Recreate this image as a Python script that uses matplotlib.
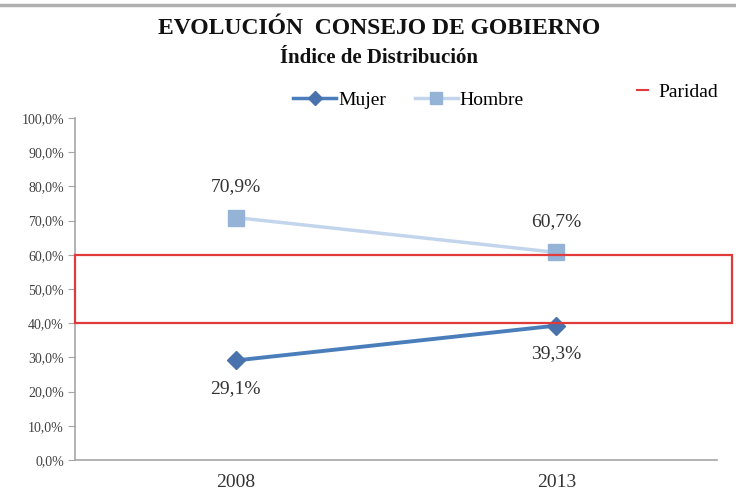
import matplotlib
matplotlib.use("Agg")
import matplotlib.pyplot as plt
import matplotlib.patches as mpatches
from matplotlib.lines import Line2D

plt.rcParams["font.family"] = ["Liberation Serif", "DejaVu Serif"]

# ── Data ─────────────────────────────────────────────────────────────────────
years   = ["2008", "2013"]
mujer   = [29.1, 39.3]
hombre  = [70.9, 60.7]
paridad = [40.0, 60.0]
yticks  = [0, 10, 20, 30, 40, 50, 60, 70, 80, 90, 100]

C_MUJER   = "#4a7ebb"
C_MUJER_M = "#4a72ad"
C_HOMBRE  = "#c3d5ec"
C_HOMBRE_M = "#95b3d7"
C_RED     = "#e03a3a"
C_AXIS    = "#a6a6a6"

fig = plt.figure(figsize=(7.36, 5.0), dpi=100)
ax = fig.add_axes([0.102, 0.08, 0.872, 0.684])

x = [0.5, 1.5]
ax.plot(x, hombre, color=C_HOMBRE, linewidth=2.5, zorder=3)
ax.plot(x, hombre, linestyle="none", marker="s", markersize=11,
        color=C_HOMBRE_M, zorder=4)
ax.plot(x, mujer, color=C_MUJER, linewidth=2.8, zorder=3)
ax.plot(x, mujer, linestyle="none", marker="D", markersize=9,
        color=C_MUJER_M, zorder=4)

def fmt(v):
    return f"{v:.1f}%".replace(".", ",")

for xi, v in zip(x, hombre):
    ax.annotate(fmt(v), (xi, v), xytext=(0, 16), textcoords="offset points",
                ha="center", va="bottom", fontsize=14, color="#333333")
for xi, v in zip(x, mujer):
    ax.annotate(fmt(v), (xi, v), xytext=(0, -14), textcoords="offset points",
                ha="center", va="top", fontsize=14, color="#333333")

# Paridad band: from y axis, runs past the plot's right edge
trans = ax.get_yaxis_transform()
rect = mpatches.Rectangle((0, paridad[0]), 1.024, paridad[1] - paridad[0],
                          transform=trans, fill=False, edgecolor=C_RED,
                          linewidth=1.6, clip_on=False, zorder=5)
ax.add_patch(rect)

ax.set_xlim(0, 2)
ax.set_ylim(0, 100)
ax.set_xticks(x)
ax.set_xticklabels(years, fontsize=14, color="#333333")
ax.set_yticks(yticks)
ax.set_yticklabels([fmt(t) for t in yticks], fontsize=10, color="#404040")
ax.tick_params(axis="x", length=0, pad=10)
ax.tick_params(axis="y", length=5, color=C_AXIS, pad=3)
for s in ["top", "right"]:
    ax.spines[s].set_visible(False)
ax.spines["left"].set_color(C_AXIS)
ax.spines["bottom"].set_color(C_AXIS)
ax.spines["left"].set_linewidth(1.2)
ax.spines["bottom"].set_linewidth(1.2)

# Titles
fig.text(0.515, 0.944, "EVOLUCIÓN  CONSEJO DE GOBIERNO", ha="center",
         va="center", fontsize=17, fontweight="bold", color="#111111")
fig.text(0.515, 0.884, "Índice de Distribución", ha="center", va="center",
         fontsize=15, fontweight="bold", color="#111111")

# Legend
handles = [Line2D([], [], color=C_MUJER, linewidth=2.5, marker="D",
                  markersize=7, markerfacecolor=C_MUJER_M,
                  markeredgecolor=C_MUJER_M),
           Line2D([], [], color=C_HOMBRE, linewidth=2.5, marker="s",
                  markersize=8, markerfacecolor=C_HOMBRE_M,
                  markeredgecolor=C_HOMBRE_M)]
fig.legend(handles, ["Mujer", "Hombre"], loc="center", ncol=2,
           bbox_to_anchor=(0.555, 0.8), frameon=False, fontsize=14,
           handlelength=2.2, handletextpad=0.1, columnspacing=1.5)
fig.legend([Line2D([], [], color=C_RED, linewidth=1.5)], ["Paridad"],
           loc="center", bbox_to_anchor=(0.92, 0.816), frameon=False,
           fontsize=14, handlelength=0.6, handletextpad=0.5)

# top border line
fig.add_artist(Line2D([0, 1], [0.99, 0.99], transform=fig.transFigure,
                      color="#b0b0b0", linewidth=2.5))

fig.savefig("out.png", dpi=100)
